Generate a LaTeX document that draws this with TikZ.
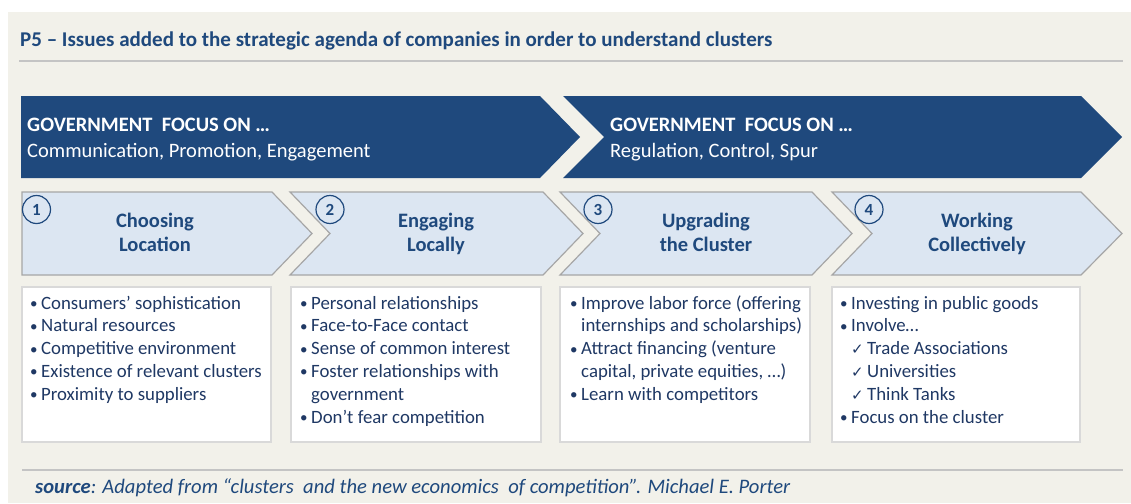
\documentclass[tikz,border=0pt]{standalone}
\usepackage{fontspec}
\setmainfont{Carlito}
\newfontfamily\symfont{DejaVu Sans}
\usetikzlibrary{positioning}

\definecolor{bgcol}{RGB}{242,241,234}
\definecolor{navy}{RGB}{31,73,125}
\definecolor{ink}{RGB}{31,56,100}
\definecolor{paleblue}{RGB}{220,230,242}
\definecolor{rulegray}{RGB}{196,196,196}
\definecolor{edgegray}{RGB}{166,166,166}
\definecolor{boxgray}{RGB}{217,217,217}

\newcommand{\bul}{\makebox[11pt][l]{\raisebox{0.5pt}{\scalebox{0.8}{\textbullet}}}}
\newcommand{\ind}{\hspace*{11pt}}
\newcommand{\tick}{\makebox[16pt][l]{{\symfont\fontsize{15}{15}\selectfont ✓}}}
\newcommand{\itemlist}[1]{\parbox[t]{255pt}{\raggedright #1}}

\tikzset{
  govtext/.style={anchor=base west, inner sep=0pt, text=white, font=\fontsize{20.5}{20.5}\selectfont},
  govhead/.style={govtext, font=\fontsize{20.5}{20.5}\selectfont\bfseries},
  stepchev/.style={fill=paleblue, draw=edgegray, line width=1.2pt},
  numcirc/.style={circle, draw=navy, line width=1.2pt, fill=paleblue, minimum size=28pt, inner sep=0pt, font=\fontsize{17}{17}\selectfont\bfseries, text=navy},
  steptitle/.style={align=center, inner sep=0pt, font=\fontsize{20.5}{24}\selectfont\bfseries, text=navy},
  listbox/.style={draw=boxgray, line width=1.2pt, fill=white},
  listtext/.style={anchor=base west, inner sep=0pt, font=\fontsize{18.8}{22.8}\selectfont, text=ink}
}

\begin{document}
\begin{tikzpicture}[x=1pt,y=-1pt]

% fix the page
\useasboundingbox (0,0) rectangle (1131,503);

% draw background
\fill[bgcol] (8,12) rectangle (1131,503);

% add title and rules
\node[anchor=base west, inner sep=0pt, text=navy, font=\fontsize{21}{21}\selectfont\bfseries] (title) at (20,46) {P5 – Issues added to the strategic agenda of companies in order to understand clusters};
\draw[rulegray, line width=2pt] (19,61) -- (1123,61);
\draw[rulegray, line width=2pt] (22,470) -- (1123,470);

% draw government arrows
\fill[navy] (21,96) -- (540,96) -- (580,137) -- (540,178) -- (21,178) -- cycle;
\fill[navy] (563,96) -- (1081,96) -- (1122,137) -- (1081,178) -- (563,178) -- (604,137) -- cycle;
\node[govhead] (govA) at (27,131) {GOVERNMENT\ \ FOCUS ON …};
\node[govtext] (govAsub) at (27,157) {Communication, Promotion, Engagement};
\node[govhead] (govB) at (610,131) {GOVERNMENT\ \ FOCUS ON …};
\node[govtext] (govBsub) at (610,157) {Regulation, Control, Spur};

% draw step chevrons
\draw[stepchev] (22,192) -- (272,192) -- (312,233.5) -- (272,275) -- (22,275) -- cycle;
\draw[stepchev] (290,192) -- (543,192) -- (583,233.5) -- (543,275) -- (290,275) -- (330,233.5) -- cycle;
\draw[stepchev] (560,192) -- (812,192) -- (852,233.5) -- (812,275) -- (560,275) -- (600,233.5) -- cycle;
\draw[stepchev] (832,192) -- (1081,192) -- (1122,233.5) -- (1081,275) -- (832,275) -- (872,233.5) -- cycle;

% add numbers
\node[numcirc] (num1) at (36.5,209.5) {1};
\node[numcirc] (num2) at (330,209.5) {2};
\node[numcirc] (num3) at (598,209.5) {3};
\node[numcirc] (num4) at (869,209.5) {4};

% add step titles
\node[steptitle] (step1) at (155,234.5) {\strut Choosing\\\strut Location};
\node[steptitle] (step2) at (436,234.5) {\strut Engaging\\\strut Locally};
\node[steptitle] (step3) at (706,234.5) {\strut Upgrading\\\strut the Cluster};
\node[steptitle] (step4) at (977,234.5) {\strut Working\\\strut Collectively};

% draw list boxes
\draw[listbox] (22,287) rectangle (271,442);
\draw[listbox] (291,287) rectangle (541,442);
\draw[listbox] (560,287) rectangle (810,442);
\draw[listbox] (832,287) rectangle (1080,442);

% add list items
\node[listtext] (list1) at (30,309) {\itemlist{\bul Consumers’ sophistication\\\bul Natural resources\\\bul Competitive environment\\\bul Existence of relevant clusters\\\bul Proximity to suppliers}};
\node[listtext] (list2) at (300,309) {\itemlist{\bul Personal relationships\\\bul Face-to-Face contact\\\bul Sense of common interest\\\bul Foster relationships with\\\ind government\\\bul Don’t fear competition}};
\node[listtext] (list3) at (570,309) {\itemlist{\bul Improve labor force (offering\\\ind internships and scholarships)\\\bul Attract financing (venture\\\ind capital, private equities, …)\\\bul Learn with competitors}};
\node[listtext] (list4) at (840,309) {\itemlist{\bul Investing in public goods\\\bul Involve…\\\ind\tick Trade Associations\\\ind\tick Universities\\\ind\tick Think Tanks\\\bul Focus on the cluster}};

% add source
\node[anchor=base west, inner sep=0pt, text=navy, font=\fontsize{20.6}{20.6}\selectfont\itshape] (source) at (35,493) {\textbf{source}: Adapted from “clusters\ \ and the new economics\ \ of competition”. Michael E. Porter};

\end{tikzpicture}
\end{document}
